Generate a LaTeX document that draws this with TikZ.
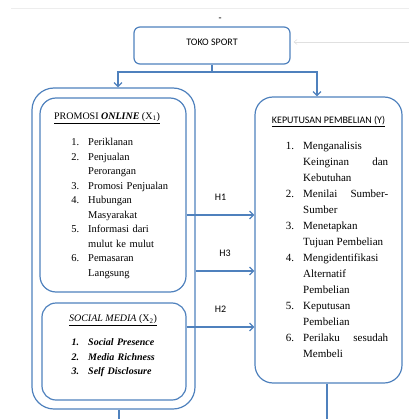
\documentclass[tikz,border=0pt]{standalone}
\usepackage{fontspec}
\setmainfont{Liberation Serif}
\newfontfamily\calibri{Carlito}
\usetikzlibrary{arrows.meta}
\definecolor{lineblue}{RGB}{79,129,189}
% numbered line with hanging indent: box width, number, text
\newcommand{\litem}[3]{\par\noindent\hangindent=#1\hangafter=1\hbox to #1{\hfil #2\hskip 9pt}#3}

\begin{document}
\begin{tikzpicture}[x=1pt, y=-1pt,
  every node/.style={font=\calibri\fontsize{10}{12}\selectfont},
  st/.style={draw=lineblue, line width=1.2pt, rounded corners=#1, inner sep=0pt},
  st/.default=16pt,
  ln/.style={line width=1.2pt, draw=lineblue},
  arr/.style={-{Straight Barb[length=4pt,width=8pt]}, line width=1.2pt, draw=lineblue},
  ttl/.style={anchor=base, inner sep=0pt},
  lst/.style={anchor=north west, inner sep=0pt}
]
\useasboundingbox (0,0) rectangle (409,419);

% Faint page marks
\draw[black!7, line width=0.8pt] (11,8) -- (409,8);
\node[font=\fontsize{9}{10}\selectfont\bfseries] (dash) at (220,19) {-};

% Boxes
\node[st=6pt, minimum width=156pt, minimum height=37pt, text height=6.5pt, text depth=5.5pt] (toko) at (212,45.5) {TOKO SPORT};
\node[st=22pt, minimum width=163pt, minimum height=321pt] (outer) at (113.5,248.5) {};
\node[st=16pt, minimum width=146pt, minimum height=194pt] (promosi) at (113,195) {};
\node[st=14pt, minimum width=144pt, minimum height=97pt] (socmed) at (114,351.5) {};
\node[st=18pt, minimum width=147pt, minimum height=286pt] (keputusan) at (328.5,240) {};

% Titles
\node[ttl, font=\fontsize{10}{12}\selectfont] (protitle) at (107,119.5) {\underline{PROMOSI \textbf{\textit{ONLINE}} (X\textsubscript{1})}};
\node[ttl, font=\fontsize{10}{12}\selectfont] (smtitle) at (113,321.5) {\underline{\textit{SOCIAL MEDIA} (X\textsubscript{2})}};
\node[ttl] (kptitle) at (328.5,123.5) {\underline{KEPUTUSAN PEMBELIAN (Y)}};

% Lists
\node[lst, text width=100pt, align=left, font=\fontsize{10.5}{14.5}\selectfont] (prolist) at (70,131.3) {%
  \hyphenpenalty=10000
  \litem{18pt}{1.}{Periklanan}
  \litem{18pt}{2.}{Penjualan Perorangan}
  \litem{18pt}{3.}{Promosi Penjualan}
  \litem{18pt}{4.}{Hubungan Masyarakat}
  \litem{18pt}{5.}{Informasi dari mulut ke mulut}
  \litem{18pt}{6.}{Pemasaran Langsung}\par};
\node[lst, text width=100pt, align=left, font=\fontsize{10}{14.5}\selectfont\bfseries\itshape] (smlist) at (68,331) {%
  \litem{20pt}{1.}{Social Presence}
  \litem{20pt}{2.}{Media Richness}
  \litem{20pt}{3.}{Self Disclosure}\par};
\node[lst, text width=107pt, align=justify, font=\fontsize{11}{16}\selectfont] (kplist) at (281,133.3) {%
  \hyphenpenalty=10000 \tolerance=10000
  \litem{22pt}{1.}{Menganalisis Keinginan dan Kebutuhan}
  \litem{22pt}{2.}{Menilai Sumber-\break Sumber}
  \litem{22pt}{3.}{Menetapkan Tujuan Pembelian}
  \litem{22pt}{4.}{Mengidentifikasi Alternatif Pembelian}
  \litem{22pt}{5.}{Keputusan Pembelian}
  \litem{22pt}{6.}{Perilaku sesudah Membeli}\par};

% Split from the shop
\coordinate (split) at (212,72);
\draw[ln] (toko) -- (split);
\draw[arr] (split) -| ([xshift=4.5pt]outer.north);
\draw[arr] (split) -| ([xshift=-11.5pt]keputusan.north);
\draw[black!12, line width=0.6pt, -{Straight Barb[length=3pt,width=5pt]}] (409,42) -- ([shift={(3pt,3.5pt)}]toko.east);

% Hypotheses
\draw[arr] ([yshift=-20pt]promosi.east) -- node[above=11pt]{H1} ([yshift=-20pt]promosi.east -| keputusan.west);
\draw[arr] ([yshift=-22.5pt]outer.east) -- node[above=11pt]{H3} ([yshift=-22.5pt]outer.east -| keputusan.west);
\draw[arr] ([yshift=24.5pt]socmed.east) -- node[above=11pt]{H2} ([yshift=24.5pt]socmed.east -| keputusan.west);

% Lines running off below
\coordinate (outbot) at (119,419);
\coordinate (kpbot) at (327,419);
\draw[ln] ([xshift=5.5pt]outer.south) -- (outbot);
\draw[ln] ([xshift=-1.5pt]keputusan.south) -- (kpbot);
\end{tikzpicture}
\end{document}
